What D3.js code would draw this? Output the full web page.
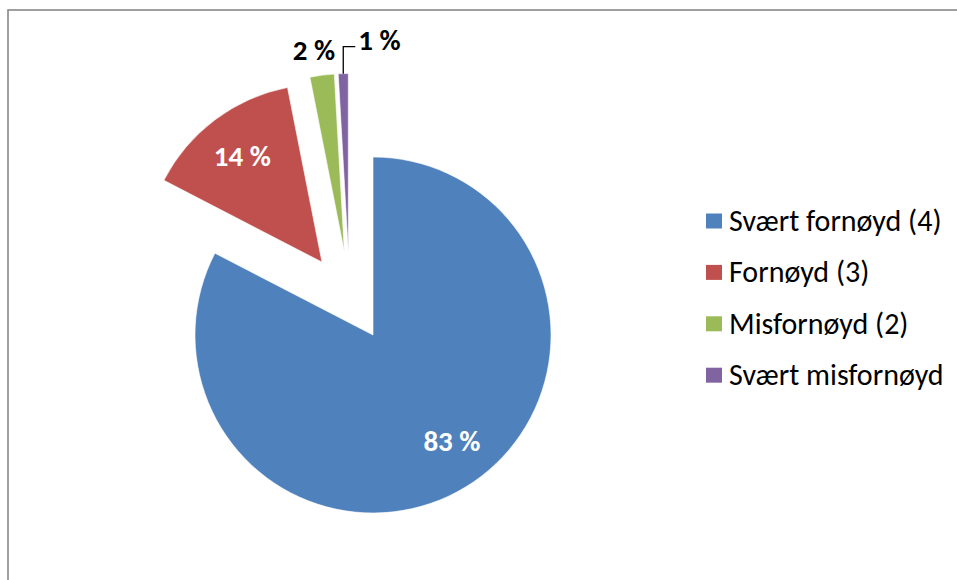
<!DOCTYPE html>
<html>
<head>
<meta charset="utf-8">
<script src="https://cdn.jsdelivr.net/npm/d3@7"></script>
<style>
  body { margin: 0; background: #fff; }
  svg { display: block; font-family: Carlito, Calibri, "Open Sans", Lato, sans-serif; }
</style>
</head>
<body>
<div id="chart"></div>
<script>
// data
var categories = ["Svært fornøyd (4)", "Fornøyd (3)", "Misfornøyd (2)", "Svært misfornøyd"];
var shares = [82.6, 14.3, 2.2, 0.9];
var colors = ["#4F81BD", "#C0504D", "#9BBB59", "#8064A2"];

var svgWidth = 957;
var svgHeight = 580;
var cx = 373;
var cy = 335;
var radius = 178;
var labelSize = 29;
var legendSize = 30;

// how far each slice is pulled out: [distance px, direction deg clockwise from top]
var explode = [[0, 0], [89, 325], [88, 341], [87, 343.5]];
var labelNudge = [[10, -7], [0, 0], [-5, 0], [0, 0]];

var svg = d3.select("#chart")
    .append("svg")
    .attr("width", svgWidth)
    .attr("height", svgHeight);

// chart frame (only top and left edges fall inside the picture)
svg.append("rect")
    .attr("x", 8)
    .attr("y", 10)
    .attr("width", 1200)
    .attr("height", 1200)
    .attr("fill", "none")
    .attr("stroke", "#888888")
    .attr("stroke-width", 1.6);

var pie = d3.pie().sort(null).value(d => d);
var arc = d3.arc().innerRadius(0).outerRadius(radius);
var slices = pie(shares);

function offset(i) {
    var a = explode[i][1] * Math.PI / 180;
    return [explode[i][0] * Math.sin(a), -explode[i][0] * Math.cos(a)];
}

var pieGroup = svg.append("g")
    .attr("transform", `translate(${cx},${cy})`);

var sliceGroups = pieGroup.selectAll("g.slice")
    .data(slices)
    .enter()
    .append("g")
    .attr("class", "slice")
    .attr("transform", (d, i) => `translate(${offset(i)[0]},${offset(i)[1]})`);

sliceGroups.append("path")
    .attr("d", arc)
    .attr("fill", (d, i) => colors[i])
    .attr("stroke", "#fff")
    .attr("stroke-width", 0.6);

var fmt = d3.format(".0f");

function midAngle(d) { return (d.startAngle + d.endAngle) / 2; }

// labels inside the two big slices
sliceGroups.filter((d, i) => i < 2)
    .append("text")
    .attr("x", (d, i) => 0.745 * radius * Math.sin(midAngle(d)) + labelNudge[i][0])
    .attr("y", (d, i) => -0.745 * radius * Math.cos(midAngle(d)) + labelNudge[i][1])
    .attr("dy", "0.33em")
    .attr("text-anchor", "middle")
    .attr("font-size", labelSize)
    .attr("font-weight", "bold")
    .attr("fill", "#fff")
    .text(d => fmt(d.data) + " %");

// green label outside
sliceGroups.filter((d, i) => i === 2)
    .append("text")
    .attr("x", d => 1.14 * radius * Math.sin(midAngle(d)) + labelNudge[2][0])
    .attr("y", d => -1.14 * radius * Math.cos(midAngle(d)) + labelNudge[2][1])
    .attr("dy", "0.33em")
    .attr("text-anchor", "middle")
    .attr("font-size", labelSize)
    .attr("font-weight", "bold")
    .attr("fill", "#000")
    .text(d => fmt(d.data) + " %");

// purple label with leader line
var purple = sliceGroups.filter((d, i) => i === 3);
purple.each(function(d) {
    var g = d3.select(this);
    var px = radius * Math.sin(midAngle(d));
    var py = -radius * Math.cos(midAngle(d));
    var elbowY = py - 27;
    g.append("path")
        .attr("d", `M${px},${py}V${elbowY}H${px + 12}`)
        .attr("fill", "none")
        .attr("stroke", "#000")
        .attr("stroke-width", 1.3);
    g.append("text")
        .attr("x", px + 15)
        .attr("y", elbowY)
        .attr("dy", "0.1em")
        .attr("font-size", labelSize)
        .attr("font-weight", "bold")
        .attr("fill", "#000")
        .text(fmt(d.data) + " %");
});

// legend
var legend = svg.append("g")
    .attr("transform", "translate(706,221)");

var items = legend.selectAll("g")
    .data(categories)
    .enter()
    .append("g")
    .attr("transform", (d, i) => `translate(0,${i * 51.4})`);

items.append("rect")
    .attr("x", 0)
    .attr("y", -7.5)
    .attr("width", 16)
    .attr("height", 15)
    .attr("fill", (d, i) => colors[i]);

items.append("text")
    .attr("x", 23)
    .attr("y", 0)
    .attr("dy", "0.33em")
    .attr("font-size", legendSize)
    .attr("fill", "#000")
    .text(d => d);
</script>
</body>
</html>
